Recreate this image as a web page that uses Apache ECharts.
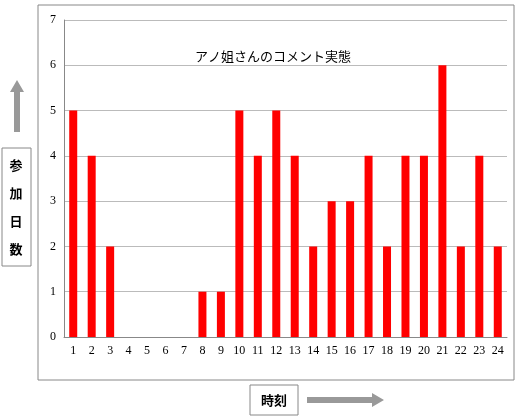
<!DOCTYPE html>
<html><head><meta charset="utf-8">
<script src="https://cdn.jsdelivr.net/npm/echarts@6/dist/echarts.min.js"></script>
<style>html,body{margin:0;padding:0;background:#fff}#c{width:518px;height:419px}</style>
</head><body><div id="c"></div>
<script>
const categories = ['1','2','3','4','5','6','7','8','9','10','11','12','13','14','15','16','17','18','19','20','21','22','23','24'];
const values = [5,4,2,0,0,0,0,1,1,5,4,5,4,2,3,3,4,2,4,4,6,2,4,2];
const yTicks = [0,1,2,3,4,5,6,7];
const chart = echarts.init(document.getElementById('c'));
chart.setOption({
  animation:false,
  title:{text:'アノ姐さんのコメント実態',left:190,top:45,textStyle:{fontSize:13,fontWeight:'normal',color:'#000',fontFamily:'Noto Sans CJK JP'}},
  grid:{left:64,right:11,top:20,bottom:82},
  xAxis:{type:'category',data:categories,axisTick:{show:false},
    axisLine:{lineStyle:{color:'#888'}},
    axisLabel:{color:'#000',fontFamily:'Liberation Serif',fontSize:12,interval:0}},
  yAxis:{type:'value',min:0,max:7,interval:1,
    axisLine:{show:true,lineStyle:{color:'#888'}},
    axisLabel:{color:'#000',fontFamily:'Liberation Serif',fontSize:12,formatter:v=>yTicks.includes(v)?String(v):''},
    splitLine:{lineStyle:{color:'#bbb'}}},
  series:[{type:'bar',data:values,barWidth:8,itemStyle:{color:'#ff0000'}}],
  graphic:[
    {type:'rect',shape:{x:38,y:5,width:476,height:375},style:{fill:'none',stroke:'#888',lineWidth:1},z:-1},
    {type:'rect',shape:{x:2,y:148,width:29,height:118},style:{fill:'#fff',stroke:'#888',lineWidth:1}},
    {type:'text',style:{text:'参\n加\n日\n数',x:16,y:207,align:'center',verticalAlign:'middle',font:'bold 13px "Noto Sans CJK JP"',lineHeight:28,fill:'#000'}},
    {type:'polygon',shape:{points:[[14,132],[20,132],[20,92],[24,92],[17,80],[10,92],[14,92]]},style:{fill:'#999'}},
    {type:'rect',shape:{x:250,y:385,width:48,height:30},style:{fill:'#fff',stroke:'#888',lineWidth:1}},
    {type:'text',style:{text:'時刻',x:274,y:400,align:'center',verticalAlign:'middle',font:'bold 13px "Noto Sans CJK JP"',fill:'#000'}},
    {type:'polygon',shape:{points:[[307,397],[372,397],[372,393],[384,400],[372,407],[372,403],[307,403]]},style:{fill:'#999'}}
  ]
});
</script></body></html>
